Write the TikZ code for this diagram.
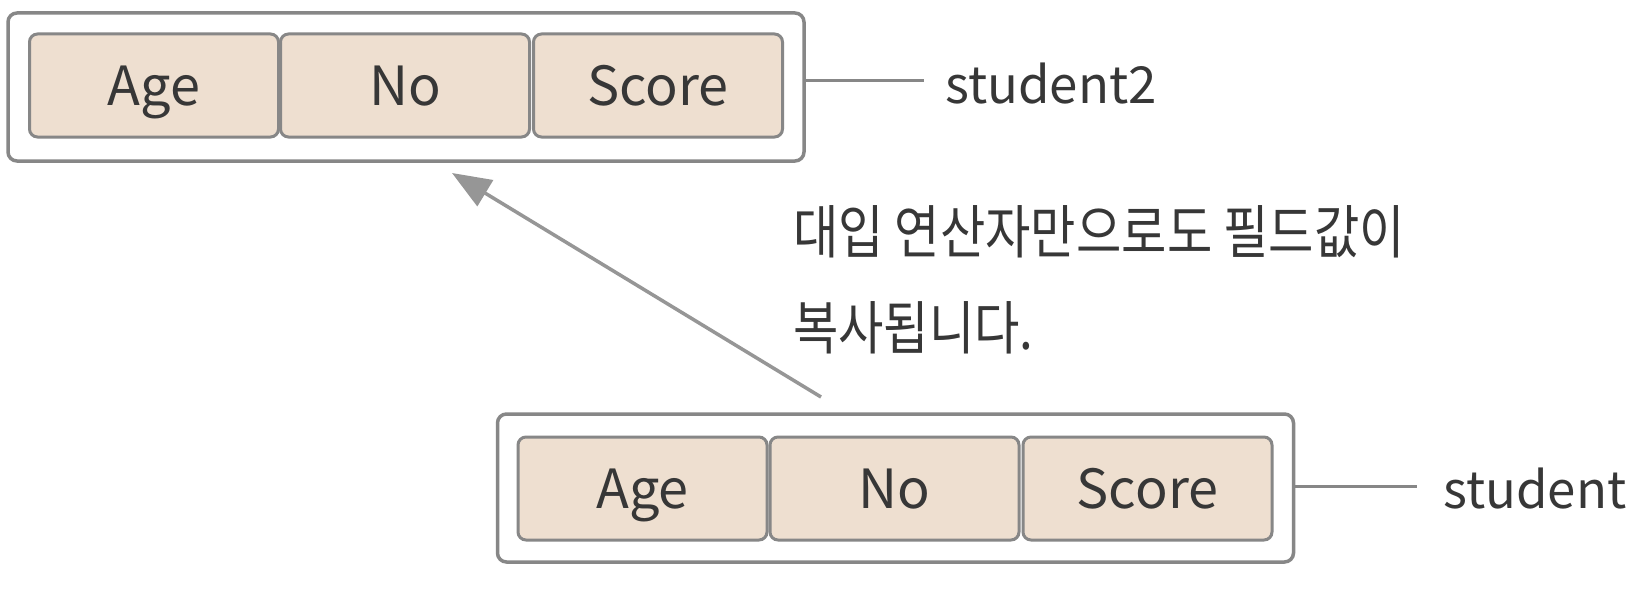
\documentclass[tikz,border=0pt]{standalone}
\usepackage{fontspec}
\setmainfont{Noto Sans CJK KR}
\newfontfamily\kr[FakeStretch=0.85]{Noto Sans CJK KR}
\usetikzlibrary{arrows.meta}
\definecolor{cellfill}{RGB}{238,223,208}
\definecolor{edge}{RGB}{135,135,135}
\definecolor{txt}{RGB}{55,55,55}
\definecolor{arrowgray}{RGB}{150,150,150}
\tikzset{
  outerbox/.style={draw=edge, line width=3.5pt, rounded corners=9pt, fill=white,
    minimum width=796pt, minimum height=148pt, inner sep=0pt},
  cell/.style={draw=edge, line width=3pt, rounded corners=8pt, fill=cellfill,
    minimum width=249pt, minimum height=103pt, inner sep=0pt, text=txt,
    text height=40pt, text depth=0pt,
    font=\fontsize{54pt}{60pt}\selectfont},
  namelabel/.style={anchor=west, inner sep=0pt, text=txt, text height=38pt, text depth=0pt,
    font=\fontsize{51pt}{60pt}\selectfont},
  krlabel/.style={anchor=west, inner sep=0pt, text=txt, font=\kr\fontsize{58pt}{64pt}\selectfont},
  tie/.style={draw=edge, line width=3pt},
  copyarrow/.style={draw=arrowgray, line width=3.5pt, -{Triangle[length=39pt,width=30pt]}}
}
\begin{document}
\begin{tikzpicture}[x=1pt,y=-1pt]
\useasboundingbox[fill=white] (0,0) rectangle (1646,594);
% top structure
\node[outerbox] (top) at (406,87) {};
\node[cell] (tAge) at (154,85.5) {Age};
\node[cell] (tNo) at (405,85.5) {No};
\node[cell] (tScore) at (658,85.5) {Score};
\node[namelabel] (s2) at (945,84) {student2};
\coordinate (s2end) at (924,80);
\draw[tie] (top.east |- s2end) -- (s2end);
% bottom structure
\node[outerbox] (bot) at (895.5,488) {};
\node[cell] (bAge) at (642.5,488.5) {Age};
\node[cell] (bNo) at (894.5,488.5) {No};
\node[cell] (bScore) at (1147.5,488.5) {Score};
\node[namelabel] (s1) at (1443,489) {student};
\coordinate (s1end) at (1417,486);
\draw[tie] (bot.east |- s1end) -- (s1end);
% text
\node[krlabel] (k1) at (793,232) {대입 연산자만으로도 필드값이};
\node[krlabel] (k2) at (793,328) {복사됩니다.};
% arrow
\coordinate (astart) at (821,397);
\coordinate (aend) at (452,173);
\draw[copyarrow] (astart) -- (aend);
\end{tikzpicture}
\end{document}
